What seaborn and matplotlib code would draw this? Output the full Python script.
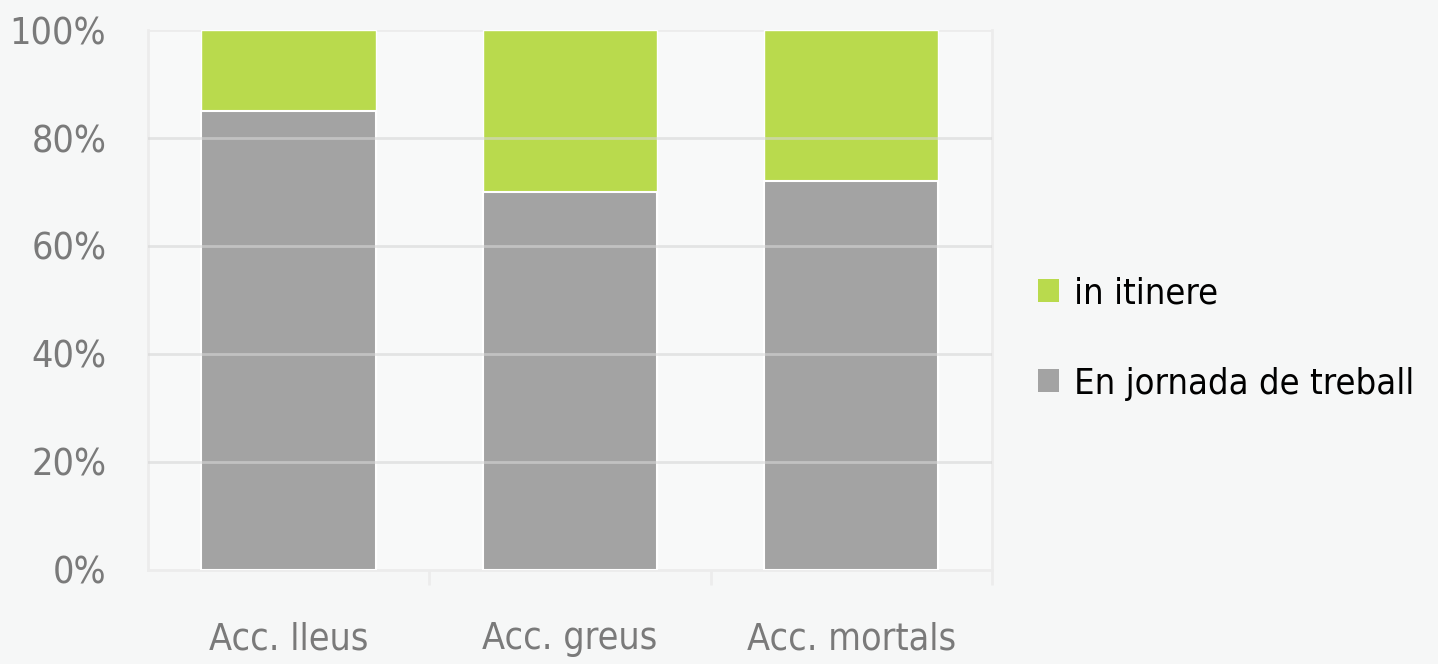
import numpy as np
import pandas as pd
import seaborn as sns
import matplotlib.pyplot as plt
from matplotlib.patches import Patch
from matplotlib import font_manager

# Data
categories = ["Acc. lleus", "Acc. greus", "Acc. mortals"]
en_jornada = [85, 70, 72]
in_itinere = [15, 30, 28]
series_labels = ["in itinere", "En jornada de treball"]

green = "#B9DA4D"
grey = "#A3A3A3"

sns.set_theme(style="white")
plt.rcParams["font.family"] = ["DejaVu Sans"]
plt.rcParams["font.stretch"] = "condensed"
print(sorted({(f.name, f.stretch) for f in font_manager.fontManager.ttflist if "DejaVu" in f.name or "Roboto" in f.name or "Narrow" in f.name}))

df = pd.DataFrame({"cat": categories, "jornada": en_jornada, "itinere": in_itinere})
df["total"] = df["jornada"] + df["itinere"]

fig = plt.figure(figsize=(14.38, 6.64), dpi=100, facecolor="#F6F7F7")
ax = fig.add_axes([0.1029, 0.1416, 0.5869, 0.8132])
ax.set_facecolor("#F8F9F9")

# stacked: total (green) underneath, en jornada (grey) over it
sns.barplot(data=df, x="cat", y="total", color=green, width=0.62,
            saturation=1, ax=ax, zorder=2)
sns.barplot(data=df, x="cat", y="jornada", color=grey, width=0.62,
            saturation=1, ax=ax, edgecolor="white", linewidth=1.5, zorder=3)

ax.set_ylim(0, 100)
ax.set_xlim(-0.5, 2.5)
ax.set_yticks([0, 20, 40, 60, 80, 100])
ax.set_yticklabels([f"{v}%" for v in [0, 20, 40, 60, 80, 100]])
ax.set_xlabel("")
ax.set_ylabel("")

for v in [20, 40, 60, 80]:
    ax.axhline(v, color="#D6D6D6", lw=2, zorder=4, alpha=0.6)
ax.axhline(100, color="#ECECEC", lw=2, zorder=1)

for s in ["left", "right", "bottom"]:
    ax.spines[s].set_color("#ECECEC")
    ax.spines[s].set_linewidth(2)
ax.spines["top"].set_visible(False)

ax.set_xticks([0.5, 1.5, 2.5], minor=True)
ax.tick_params(axis="x", which="minor", length=11, color="#ECECEC", width=2, bottom=True)
ax.tick_params(axis="x", which="major", length=0, pad=37, labelsize=27, labelcolor="#7A7A7A")
ax.tick_params(axis="y", length=0, pad=30, labelsize=27, labelcolor="#7A7A7A")

handles = [Patch(facecolor=green, edgecolor="none"), Patch(facecolor=grey, edgecolor="none")]
fig.legend(handles, series_labels, loc="center left", bbox_to_anchor=(0.699, 0.49),
           frameon=False, fontsize=26, handlelength=0.6, handleheight=0.6,
           handletextpad=0.4, labelspacing=1.55, labelcolor="black")

fig.savefig("out.png", dpi=100, facecolor=fig.get_facecolor())
